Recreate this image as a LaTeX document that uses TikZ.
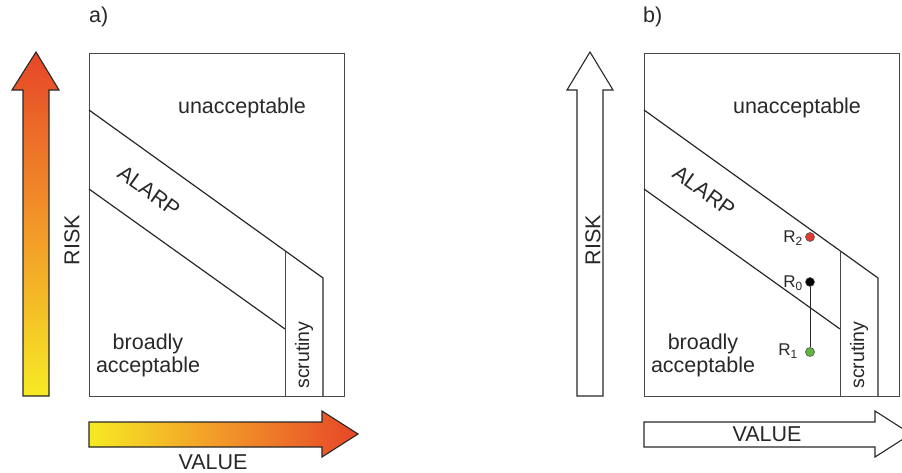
\documentclass[tikz,border=0pt]{standalone}
\usepackage{fontspec}
\setmainfont{Liberation Sans}
\definecolor{riskyellow}{RGB}{246,234,36}
\definecolor{riskorange}{RGB}{242,150,40}
\definecolor{riskred}{RGB}{230,70,40}
\definecolor{ink}{RGB}{40,40,40}
\definecolor{dotred}{RGB}{226,58,48}
\definecolor{dotgreen}{RGB}{96,182,64}
\begin{document}
\begin{tikzpicture}[x=1pt,y=-1pt,
  frame/.style={draw=ink!85,line width=0.9pt},
  zone/.style={draw=ink,line width=1.2pt},
  arrowout/.style={draw=ink,line width=1.1pt,line join=miter},
  lbl/.style={text=ink,font=\fontsize{21.5}{23}\selectfont,inner sep=0pt},
  small/.style={text=ink,font=\fontsize{19.5}{21}\selectfont,inner sep=0pt},
  rlbl/.style={text=ink,font=\fontsize{17}{19}\selectfont,inner sep=0pt,anchor=east},
  dot/.style={circle,draw=ink!80,line width=0.6pt,minimum size=9pt,inner sep=0pt}]
\useasboundingbox (0,0) rectangle (902,472);
\clip (0,0) rectangle (902,472);

% ---------- panel a ----------
\node[lbl,anchor=west] (la) at (89,17) {a)};
% risk axis with gradient
\shade[bottom color=riskyellow,top color=riskred,middle color=riskorange]
  (23,396) -- (49,396) -- (49,90) -- (59,90) -- (36,52) -- (12,90) -- (23,90) -- cycle;
\draw[arrowout] (23,396) -- (49,396) -- (49,90) -- (59,90) -- (36,52) -- (12,90) -- (23,90) -- cycle;
\node[lbl,rotate=90] (riska) at (72,240) {RISK};
% value axis with gradient
\shade[left color=riskyellow,right color=riskred,middle color=riskorange]
  (89,422) -- (322,422) -- (322,411) -- (358,434) -- (322,457) -- (322,447) -- (89,447) -- cycle;
\draw[arrowout] (89,422) -- (322,422) -- (322,411) -- (358,434) -- (322,457) -- (322,447) -- (89,447) -- cycle;
\node[lbl] (valuea) at (213,462) {VALUE};
% regions
\draw[frame] (89,53) rectangle (344,396);
\draw[zone] (89,110) -- (323,278) -- (323,396);
\draw[zone] (89,189) -- (285,329);
\draw[frame] (285,251) -- (285,396);
\node[lbl] (ua) at (242,108) {unacceptable};
\node[lbl,rotate=-35.6] (alarpa) at (149,191) {ALARP};
\node[lbl,align=center] (ba) at (148,355) {broadly\\acceptable};
\node[small,rotate=90] (sa) at (304,355) {scrutiny};

% ---------- panel b ----------
\node[lbl,anchor=west] (lb) at (643,17) {b)};
\draw[arrowout,fill=white] (577,396) -- (603,396) -- (603,90) -- (613,90) -- (590,52) -- (567,90) -- (577,90) -- cycle;
\node[lbl,rotate=90] (riskb) at (593,240) {RISK};
\draw[arrowout,fill=white] (644,422) -- (875,422) -- (875,411) -- (911,434) -- (875,457) -- (875,447) -- (644,447) -- cycle;
\node[lbl] (valueb) at (767,434) {VALUE};
\draw[frame] (644,53) rectangle (899,396);
\draw[zone] (644,110) -- (878,278) -- (878,396);
\draw[zone] (644,189) -- (840,329);
\draw[frame] (840,251) -- (840,396);
\node[lbl] (ub) at (797,108) {unacceptable};
\node[lbl,rotate=-35.6] (alarpb) at (704,191) {ALARP};
\node[lbl,align=center] (bb) at (703,355) {broadly\\acceptable};
\node[small,rotate=90] (sb) at (859,355) {scrutiny};
% risk points
\node[dot,fill=dotred] (r2) at (810,237) {};
\node[dot,fill=black] (r0) at (810,282) {};
\node[dot,fill=dotgreen] (r1) at (810,352) {};
\draw[ink,line width=0.9pt] (r0) -- (r1);
\node[rlbl] (r2l) at (803,238) {R$_{\mathrm{2}}$};
\node[rlbl] (r0l) at (803,283) {R$_{\mathrm{0}}$};
\node[rlbl] (r1l) at (798,351) {R$_{\mathrm{1}}$};
\end{tikzpicture}
\end{document}
